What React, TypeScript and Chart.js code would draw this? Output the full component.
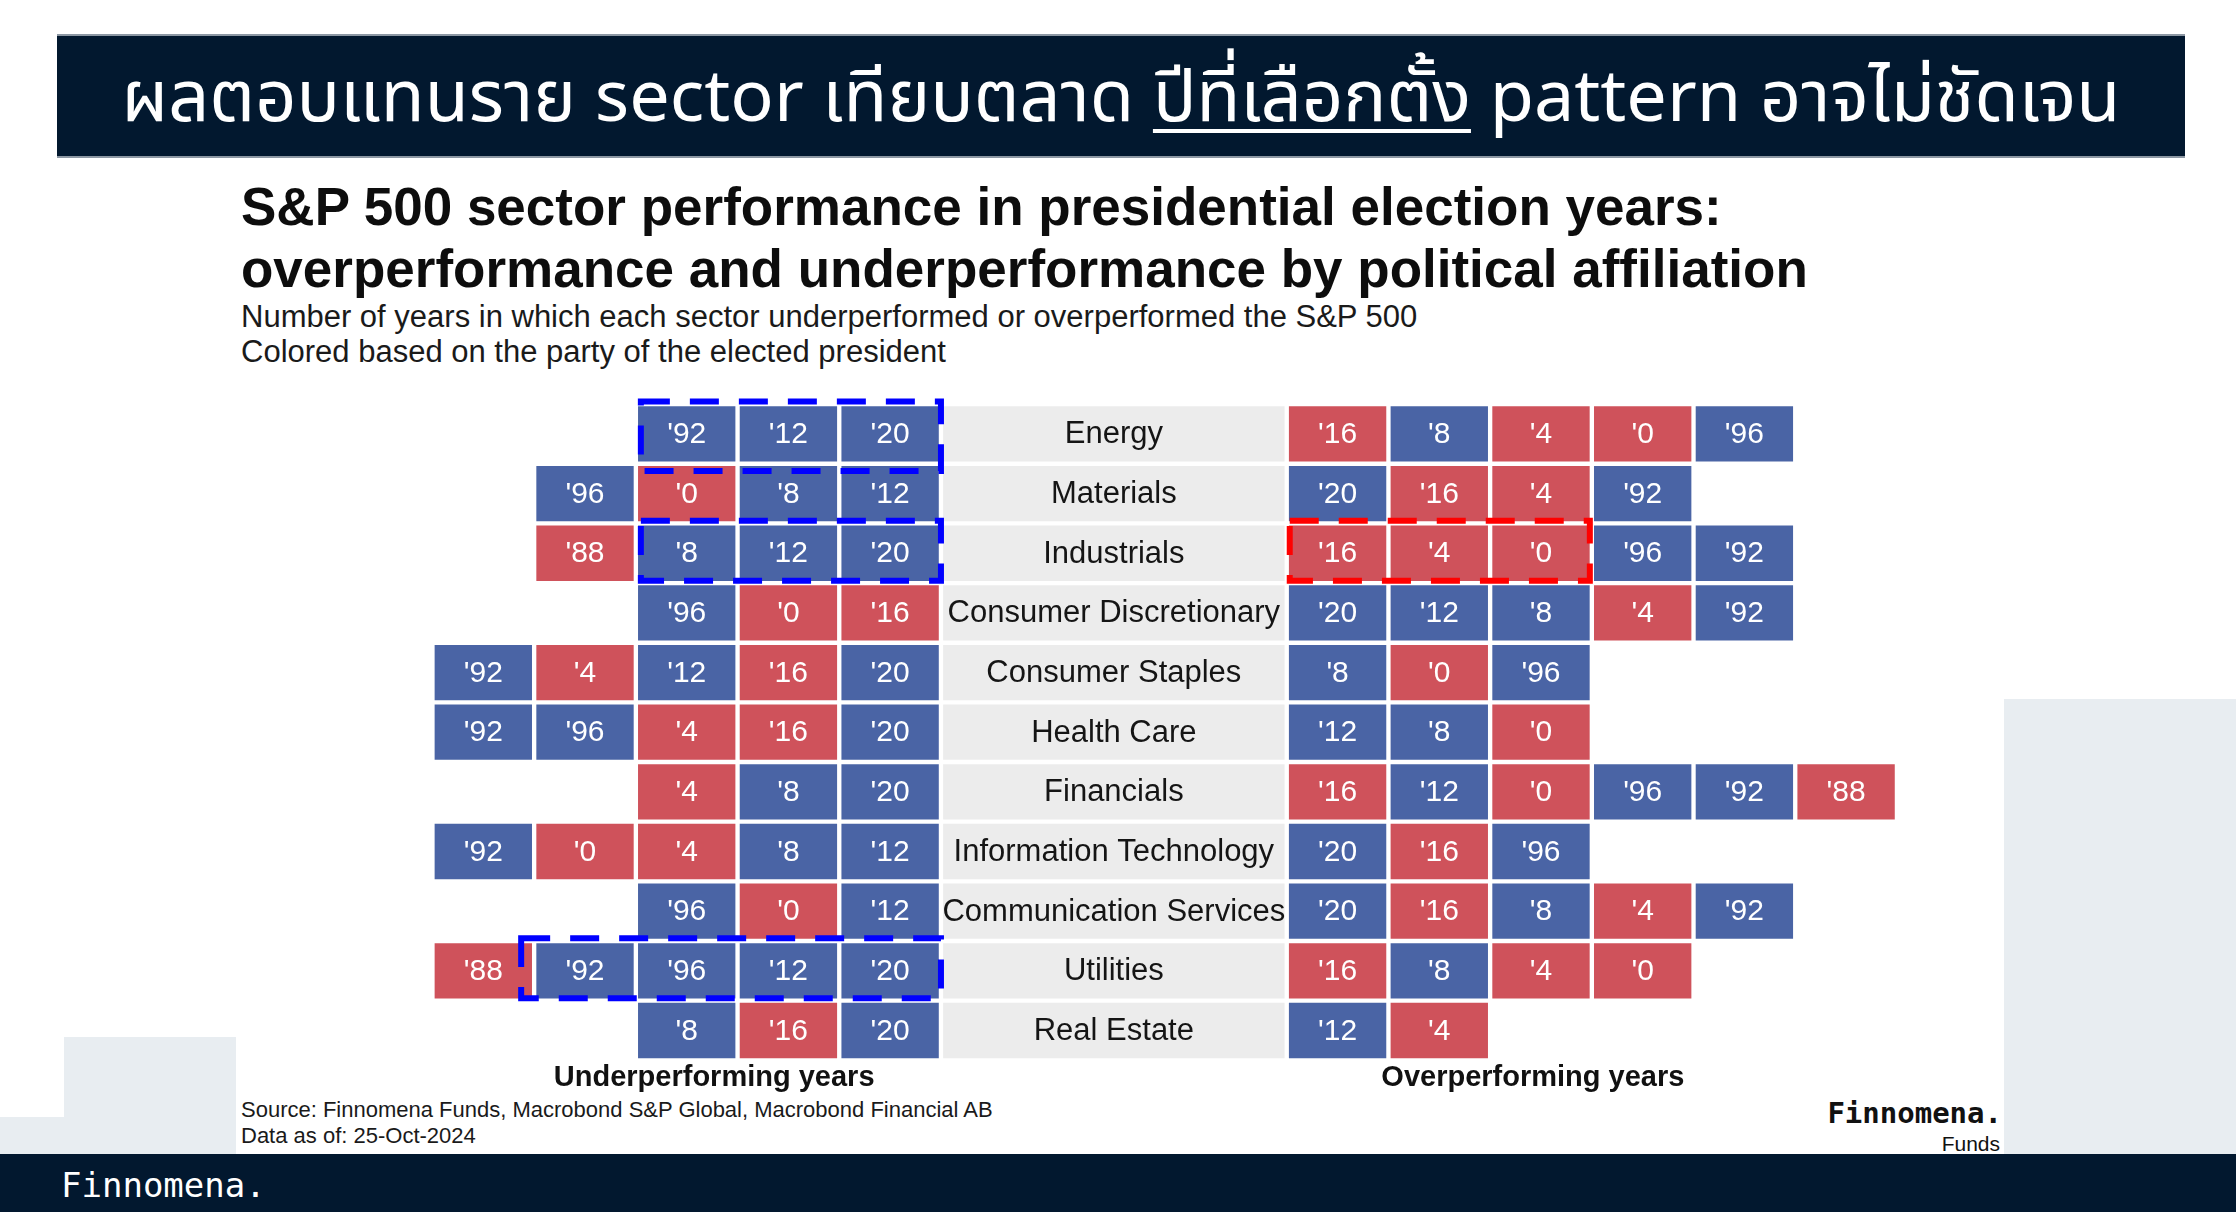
import React, { useEffect, useRef } from "react";
import { Chart, registerables } from "chart.js";

Chart.register(...registerables);

// ---------- DATA ----------
const sectors = [
  "Energy",
  "Materials",
  "Industrials",
  "Consumer Discretionary",
  "Consumer Staples",
  "Health Care",
  "Financials",
  "Information Technology",
  "Communication Services",
  "Utilities",
  "Real Estate",
];

// Underperforming years, listed left to right (outermost first)
const underperformYears = [
  ["'92", "'12", "'20"],
  ["'96", "'0", "'8", "'12"],
  ["'88", "'8", "'12", "'20"],
  ["'96", "'0", "'16"],
  ["'92", "'4", "'12", "'16", "'20"],
  ["'92", "'96", "'4", "'16", "'20"],
  ["'4", "'8", "'20"],
  ["'92", "'0", "'4", "'8", "'12"],
  ["'96", "'0", "'12"],
  ["'88", "'92", "'96", "'12", "'20"],
  ["'8", "'16", "'20"],
];

// Overperforming years, listed left to right (innermost first)
const overperformYears = [
  ["'16", "'8", "'4", "'0", "'96"],
  ["'20", "'16", "'4", "'92"],
  ["'16", "'4", "'0", "'96", "'92"],
  ["'20", "'12", "'8", "'4", "'92"],
  ["'8", "'0", "'96"],
  ["'12", "'8", "'0"],
  ["'16", "'12", "'0", "'96", "'92", "'88"],
  ["'20", "'16", "'96"],
  ["'20", "'16", "'8", "'4", "'92"],
  ["'16", "'8", "'4", "'0"],
  ["'12", "'4"],
];

const electionYears = ["'88", "'92", "'96", "'0", "'4", "'8", "'12", "'16", "'20"];
const electedParty = ["R", "D", "D", "R", "R", "D", "D", "R", "D"];

// Highlighted groups (sector, side, number of cells counted from the centre, party)
const highlightSector = ["Energy", "Industrials", "Industrials", "Utilities"];
const highlightSide = ["under", "under", "over", "under"];
const highlightCount = [3, 3, 3, 4];
const highlightParty = ["D", "D", "R", "D"];

const bottomLabels = ["Underperforming years", "Overperforming years"];

// ---------- STYLE / LAYOUT ----------
const W = 2236;
const H = 1212;
const BLUE = "#4a64a5";
const RED = "#cf525b";
const LABEL_BG = "#ececec";
const NAVY = "#02182f";
const PANEL = "#e8edf1";
const SANS = '"Liberation Sans", Arial, Helvetica, sans-serif';
const MONO = '"DejaVu Sans Mono", "Liberation Mono", monospace';

const HALF = 1.7; // half width of label column, in cell units
const CENTER_X = 1113.85;
const UNIT = 101.7;
const TOP = 404.07;
const PITCH = 59.66;

const partyOf = (y: string) => electedParty[electionYears.indexOf(y)];
const colorOf = (p: string) => (p === "R" ? RED : BLUE);

function buildDatasets() {
  const maxUnder = Math.max(...underperformYears.map((a) => a.length));
  const maxOver = Math.max(...overperformYears.map((a) => a.length));
  const common = {
    borderColor: "#ffffff",
    borderWidth: 2.5,
    borderSkipped: false as const,
    grouped: false,
    barPercentage: 1,
    categoryPercentage: 1,
  };
  const ds: any[] = [
    {
      ...common,
      label: "labels",
      data: sectors.map(() => [-HALF, HALF]),
      backgroundColor: LABEL_BG,
      years: sectors.map(() => null),
    },
  ];
  for (let k = 1; k <= maxUnder; k++) {
    const years = underperformYears.map((L) => (k <= L.length ? L[L.length - k] : null));
    ds.push({
      ...common,
      label: "under" + k,
      data: years.map((y) => (y ? [-HALF - k, -HALF - k + 1] : null)),
      backgroundColor: years.map((y) => (y ? colorOf(partyOf(y)) : "rgba(0,0,0,0)")),
      years,
    });
  }
  for (let k = 1; k <= maxOver; k++) {
    const years = overperformYears.map((L) => (k <= L.length ? L[k - 1] : null));
    ds.push({
      ...common,
      label: "over" + k,
      data: years.map((y) => (y ? [HALF + k - 1, HALF + k] : null)),
      backgroundColor: years.map((y) => (y ? colorOf(partyOf(y)) : "rgba(0,0,0,0)")),
      years,
    });
  }
  return { ds, maxUnder, maxOver };
}

const textPlugin = {
  id: "cellText",
  afterDatasetsDraw(chart: any) {
    const ctx = chart.ctx;
    const xs = chart.scales.x;
    const ys = chart.scales.y;
    ctx.save();
    // cell year labels
    ctx.font = `30px ${SANS}`;
    ctx.fillStyle = "#ffffff";
    ctx.textAlign = "center";
    ctx.textBaseline = "middle";
    chart.data.datasets.forEach((d: any, di: number) => {
      if (di === 0) return;
      const meta = chart.getDatasetMeta(di);
      meta.data.forEach((el: any, i: number) => {
        const y = d.years[i];
        if (!y) return;
        ctx.fillText(y, (el.x + el.base) / 2, el.y + 1);
      });
    });
    // sector names
    ctx.font = `31px ${SANS}`;
    ctx.fillStyle = "#151515";
    sectors.forEach((s, i) => {
      ctx.fillText(s, xs.getPixelForValue(0), ys.getPixelForValue(i) + 1);
    });
    // bottom labels
    ctx.font = `bold 29px ${SANS}`;
    ctx.textBaseline = "alphabetic";
    ctx.fillStyle = "#111111";
    const by = chart.chartArea.bottom + 26;
    ctx.fillText(bottomLabels[0], xs.getPixelForValue(-HALF - 2.23), by);
    ctx.fillText(bottomLabels[1], xs.getPixelForValue(HALF + 2.42), by);

    // highlight boxes
    ctx.lineWidth = 6;
    ctx.setLineDash([29, 20]);
    ctx.lineCap = "butt";
    highlightSector.forEach((s, bi) => {
      const r = sectors.indexOf(s);
      const cy = ys.getPixelForValue(r);
      const n = highlightCount[bi];
      let x1: number, x2: number;
      if (highlightSide[bi] === "under") {
        x1 = xs.getPixelForValue(-HALF - n) + (n >= 4 ? -13 : 5);
        x2 = xs.getPixelForValue(-HALF);
      } else {
        x1 = xs.getPixelForValue(HALF) + 3;
        x2 = xs.getPixelForValue(HALF + n) - 2;
      }
      const y1 = cy - 32.5;
      const y2 = cy + (r === 0 ? 37 : 27.5);
      ctx.strokeStyle = highlightParty[bi] === "R" ? "#ff0000" : "#0000ff";
      ctx.beginPath();
      ctx.moveTo(x1, y1);
      ctx.lineTo(x2, y1);
      ctx.lineTo(x2, y2);
      ctx.lineTo(x1, y2);
      ctx.closePath();
      ctx.stroke();
    });
    ctx.restore();
  },
};

function T(props: {
  x?: number;
  right?: number;
  baseline: number;
  size: number;
  children: any;
  style?: any;
}) {
  const { x, right, baseline, size, children, style } = props;
  const s: any = {
    position: "absolute",
    top: baseline - 0.8465 * size,
    fontSize: size,
    lineHeight: `${size}px`,
    whiteSpace: "nowrap",
    fontFamily: SANS,
    ...style,
  };
  if (right !== undefined) {
    s.right = W - right;
    s.textAlign = "right";
  } else {
    s.left = x;
  }
  return <div style={s}>{children}</div>;
}

export default function App() {
  const ref = useRef<HTMLCanvasElement | null>(null);

  useEffect(() => {
    if (!ref.current) return;
    const { ds, maxUnder, maxOver } = buildDatasets();
    const xMin = -HALF - maxUnder;
    const xMax = HALF + maxOver;
    const left = CENTER_X + xMin * UNIT;
    const right = CENTER_X + xMax * UNIT;
    const bottom = TOP + sectors.length * PITCH;
    const chart = new Chart(ref.current, {
      type: "bar",
      data: { labels: sectors, datasets: ds },
      options: {
        indexAxis: "y",
        responsive: false,
        maintainAspectRatio: false,
        animation: false,
        layout: {
          padding: { left, right: W - right, top: TOP, bottom: H - bottom },
        },
        scales: {
          x: { type: "linear", min: xMin, max: xMax, display: false },
          y: { type: "category", display: false, offset: true },
        },
        plugins: {
          legend: { display: false },
          tooltip: { enabled: false },
          title: { display: false },
        },
      } as any,
      plugins: [textPlugin],
    });
    return () => chart.destroy();
  }, []);

  return (
    <div
      style={{
        position: "absolute",
        left: 0,
        top: 0,
        width: W,
        height: H,
        overflow: "hidden",
        background: "#ffffff",
        fontFamily: SANS,
      }}
    >
      {/* decorative panels */}
      <div style={{ position: "absolute", left: 2004, top: 699, width: W - 2004, height: 1154 - 699, background: PANEL }} />
      <div style={{ position: "absolute", left: 64, top: 1037, width: 236 - 64, height: 1154 - 1037, background: PANEL }} />
      <div style={{ position: "absolute", left: 0, top: 1117, width: 64, height: 1154 - 1117, background: PANEL }} />
      {/* banner */}
      <div
        style={{
          position: "absolute",
          left: 57,
          top: 34,
          width: 2185 - 57,
          height: 158 - 34,
          background: NAVY,
          borderTop: "2px solid #8c97a3",
          borderBottom: "2px solid #8c97a3",
          boxSizing: "border-box",
        }}
      />
      <div
        style={{
          position: "absolute",
          left: 57,
          width: 2185 - 57,
          top: 124 - 0.85 * 72,
          fontSize: 72,
          lineHeight: "72px",
          color: "#ffffff",
          textAlign: "center",
          whiteSpace: "nowrap",
          fontFamily: '"Noto Sans Thai", "Noto Sans", "DejaVu Sans", sans-serif',
        }}
      >
        ผลตอบแทนราย sector เทียบตลาด{" "}
        <span style={{ textDecoration: "underline", textDecorationThickness: 4, textUnderlineOffset: 8 }}>
          ปีที่เลือกตั้ง
        </span>{" "}
        pattern อาจไม่ชัดเจน
      </div>
      {/* footer */}
      <div style={{ position: "absolute", left: 0, top: 1154, width: W, height: H - 1154, background: NAVY }} />
      <T x={61} baseline={1197} size={34} style={{ fontFamily: MONO, color: "#ffffff" }}>
        Finnomena.
      </T>

      {/* titles */}
      <T x={241} baseline={225} size={53} style={{ fontWeight: "bold", color: "#0d0d0d" }}>
        S&amp;P 500 sector performance in presidential election years:
      </T>
      <T x={241} baseline={287} size={53} style={{ fontWeight: "bold", color: "#0d0d0d" }}>
        overperformance and underperformance by political affiliation
      </T>
      <T x={241} baseline={327} size={31} style={{ color: "#1a1a1a" }}>
        Number of years in which each sector underperformed or overperformed the S&amp;P 500
      </T>
      <T x={241} baseline={362} size={31} style={{ color: "#1a1a1a" }}>
        Colored based on the party of the elected president
      </T>

      {/* source */}
      <T x={241} baseline={1118} size={22} style={{ color: "#1a1a1a" }}>
        Source: Finnomena Funds, Macrobond S&amp;P Global, Macrobond Financial AB
      </T>
      <T x={241} baseline={1144} size={22} style={{ color: "#1a1a1a" }}>
        Data as of: 25-Oct-2024
      </T>
      <T right={2002} baseline={1124} size={29} style={{ fontFamily: MONO, fontWeight: "bold", color: "#111111" }}>
        Finnomena.
      </T>
      <T
        right={2000}
        baseline={1151}
        size={21}
        style={{ fontFamily: '"Liberation Sans Narrow", "Liberation Sans", sans-serif', color: "#111111" }}
      >
        Funds
      </T>

      <canvas
        ref={ref}
        width={W}
        height={H}
        style={{ position: "absolute", left: 0, top: 0, width: W, height: H }}
      />
    </div>
  );
}
